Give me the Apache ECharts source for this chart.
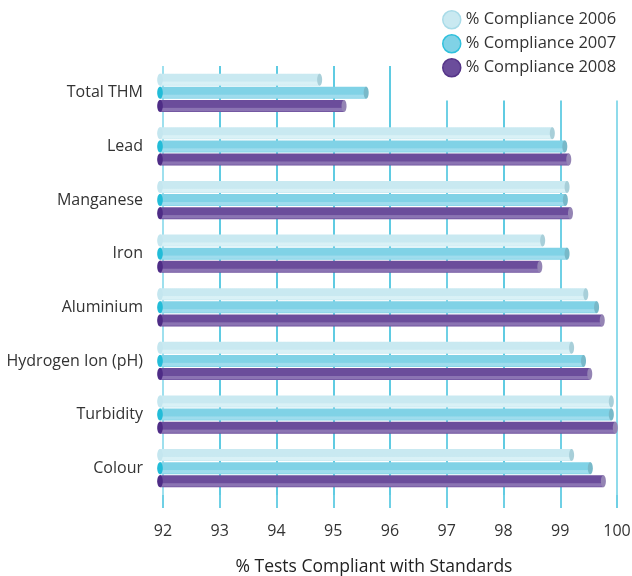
<!DOCTYPE html>
<html>
<head>
<meta charset="utf-8">
<script src="https://cdn.jsdelivr.net/npm/echarts@6/dist/echarts.min.js"></script>
<style>
html,body{margin:0;padding:0;background:#fff;}
#chart{width:632px;height:576px;}
</style>
</head>
<body>
<div id="chart"></div>
<script>
var categories = ['Total THM','Lead','Manganese','Iron','Aluminium','Hydrogen Ion (pH)','Turbidity','Colour'];
var seriesNames = ['% Compliance 2006','% Compliance 2007','% Compliance 2008'];
var values2006 = [94.76, 98.86, 99.12, 98.69, 99.45, 99.20, 99.90, 99.20];
var values2007 = [95.58, 99.08, 99.09, 99.12, 99.64, 99.41, 99.90, 99.53];
var values2008 = [95.19, 99.15, 99.18, 98.64, 99.74, 99.52, 99.97, 99.76];
var xTicks = [92,93,94,95,96,97,98,99,100];

var styles = [
  {main:'#c9e9f1', light:'#d9f1f6', left:'#c4e6ef', right:'#a8cfd9', legendBorder:'#a8dbe8'},
  {main:'#80d2e6', light:'#9fdced', left:'#22bcd8', right:'#78b9c9', legendBorder:'#2fc0dc'},
  {main:'#6b4d9b', light:'#8b74b3', left:'#4e2c86', right:'#9484b4', legendBorder:'#553488'}
];
var allValues = [values2006, values2007, values2008];

function makeRender(si){
  var st = styles[si];
  return function(params, api){
    var cat = api.value(1);
    var val = api.value(0);
    var start = api.coord([xTicks[0], cat]);
    var end = api.coord([val, cat]);
    var band = api.size([0,1])[1];
    var h = band * 0.222;
    var step = band * 0.245;
    var cy = start[1] + (si - 1) * step;
    var sx = start[0] - 3;
    var ex = end[0];
    var grad = new echarts.graphic.LinearGradient(0,0,0,1,[
      {offset:0, color:st.main},
      {offset:0.62, color:st.main},
      {offset:0.7, color:st.light},
      {offset:0.88, color:st.light},
      {offset:1, color:st.main}
    ]);
    return {
      type:'group',
      children:[
        {type:'rect', shape:{x:sx, y:cy-h/2, width:ex-sx, height:h}, style:{fill:grad}},
        {type:'ellipse', shape:{cx:ex, cy:cy, rx:2.5, ry:h/2}, style:{fill:st.right}},
        {type:'ellipse', shape:{cx:sx, cy:cy, rx:2.8, ry:h/2}, style:{fill:st.left}}
      ]
    };
  };
}

var series = seriesNames.map(function(name, si){
  return {
    name: name,
    type: 'custom',
    coordinateSystem: 'cartesian2d',
    renderItem: makeRender(si),
    encode: {x:0, y:1},
    itemStyle: {color: styles[si].main},
    data: allValues[si].map(function(v, i){ return [v, i]; })
  };
});

var lineColors = ['#9ee0ee','#5fcbe2','#5fcbe2','#5fcbe2','#5fcbe2','#6fd0e5','#5fcbe2','#6fd0e5','#8fdbeb'];

var chart = echarts.init(document.getElementById('chart'), null, {renderer:'canvas'});
chart.setOption({
  animation:false,
  textStyle:{fontFamily:'Open Sans'},
  legend:{
    orient:'vertical',
    left:436, top:0,
    padding:[10,30,23,6],
    backgroundColor:'#fff',
    itemWidth:18, itemHeight:18, itemGap:4.5,
    icon:'circle',
    textStyle:{fontSize:16.5, color:'#333', fontFamily:'Open Sans'},
    data: seriesNames.map(function(n, i){
      return {name:n, itemStyle:{color:styles[i].main, borderColor:styles[i].legendBorder, borderWidth:1.5}};
    })
  },
  grid:{left:163, right:15, top:66, bottom:81, containLabel:false, outerBoundsMode:'none'},
  xAxis:{
    type:'value', min:xTicks[0], max:xTicks[xTicks.length-1], interval:1,
    axisLine:{show:false},
    axisTick:{show:true, length:13, lineStyle:{color:'#6fd0e5', width:2}},
    splitLine:{show:true, lineStyle:{color:lineColors, width:2}},
    axisLabel:{fontSize:16, color:'#333', margin:28, fontFamily:'Open Sans'},
    name:'% Tests Compliant with Standards',
    nameLocation:'middle', nameGap:63,
    nameTextStyle:{fontSize:17.5, color:'#222', fontFamily:'Open Sans', padding:[0,32,0,0]}
  },
  yAxis:{
    type:'category', data:categories, inverse:true,
    axisLine:{show:false}, axisTick:{show:false}, splitLine:{show:false},
    axisLabel:{fontSize:16, color:'#333', margin:20, fontFamily:'Open Sans', padding:[6,0,0,0]},
    name:'Parameter', nameLocation:'middle', nameRotate:90, nameGap:142,
    nameTextStyle:{fontSize:17.5, color:'#222', fontFamily:'Open Sans'}
  },
  series: series
});
</script>
</body>
</html>
